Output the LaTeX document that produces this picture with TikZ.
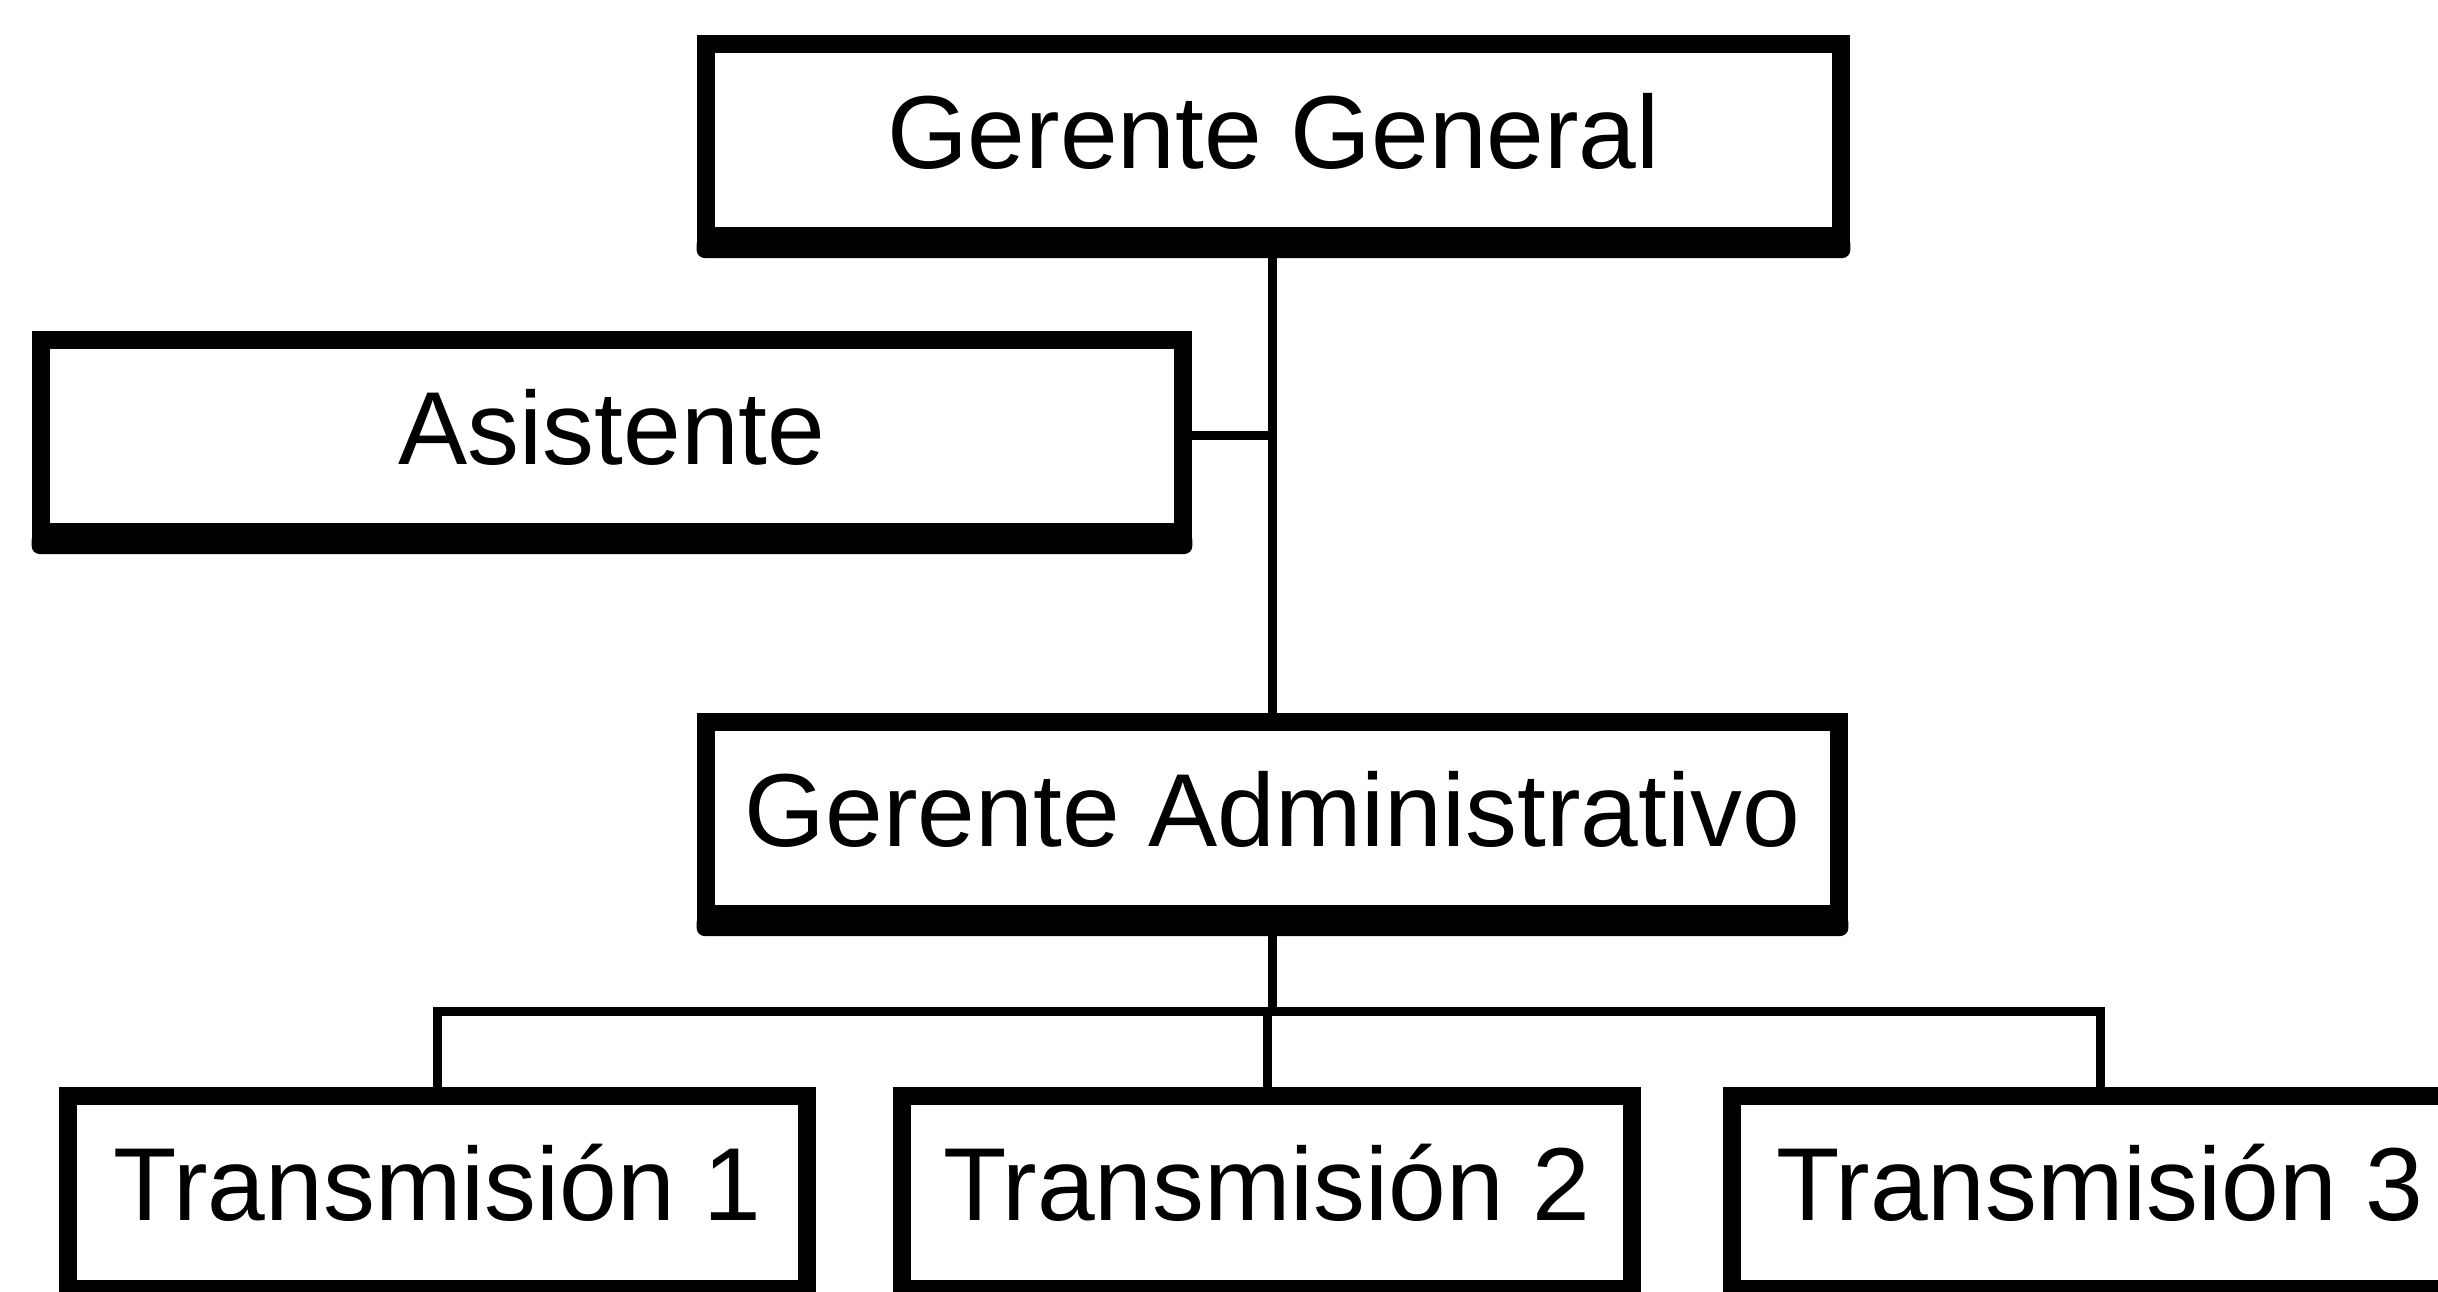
\documentclass[tikz,border=0pt]{standalone}
\usepackage{fontspec}
\setmainfont{Liberation Sans}
\usetikzlibrary{calc}
\begin{document}
\begin{tikzpicture}[x=0.01cm,y=-0.01cm,
  box/.style={draw=black, fill=white, line width=0.18cm, outer sep=0pt, inner sep=0pt,
    minimum height=1.92cm, text height=0.76cm, text depth=0.2cm,
    font=\fontsize{29.5pt}{36pt}\selectfont},
  conn/.style={line width=0.09cm, draw=black},
  shade/.style={fill=black, rounded corners=0.08cm}]
\useasboundingbox (0,0) rectangle (2438,1292);
\begin{scope}
\clip (0,0) rectangle (2438,1292);
\fill[white] (0,0) rectangle (2438,1292);
% boxes
\node[box, minimum width=11.35cm] (gg) at (1273.5,140) {Gerente General};
\node[box, minimum width=11.42cm] (as) at (612,436) {Asistente};
\node[box, minimum width=11.33cm] (ga) at (1272.5,818) {Gerente Administrativo};
\node[box, minimum width=7.39cm] (t1) at (437.5,1192.5) {Transmisión 1};
\node[box, minimum width=7.30cm] (t2) at (1267,1192.5) {Transmisión 2};
\node[box, minimum width=7.36cm] (t3) at (2100,1192.5) {Transmisión 3};
% thick bottom shadows
\foreach \n in {gg,as,ga,t1,t2,t3}{
  \fill[shade] ($(\n.south west)+(-9,0)$) rectangle ($(\n.south east)+(9,22)$);
}
% connectors
\coordinate (bus) at (1272.5,1012);
\draw[conn] (ga.north) -- (ga.north |- gg.south);
\draw[conn] (as.east) -- (as.east -| ga.north);
\draw[conn] (ga.south) -- (bus);
\draw[conn] (t1.north) |- (bus) -| (t3.north);
\draw[conn] (t2.north) -- (t2.north |- bus);
\end{scope}
\end{tikzpicture}
\end{document}
